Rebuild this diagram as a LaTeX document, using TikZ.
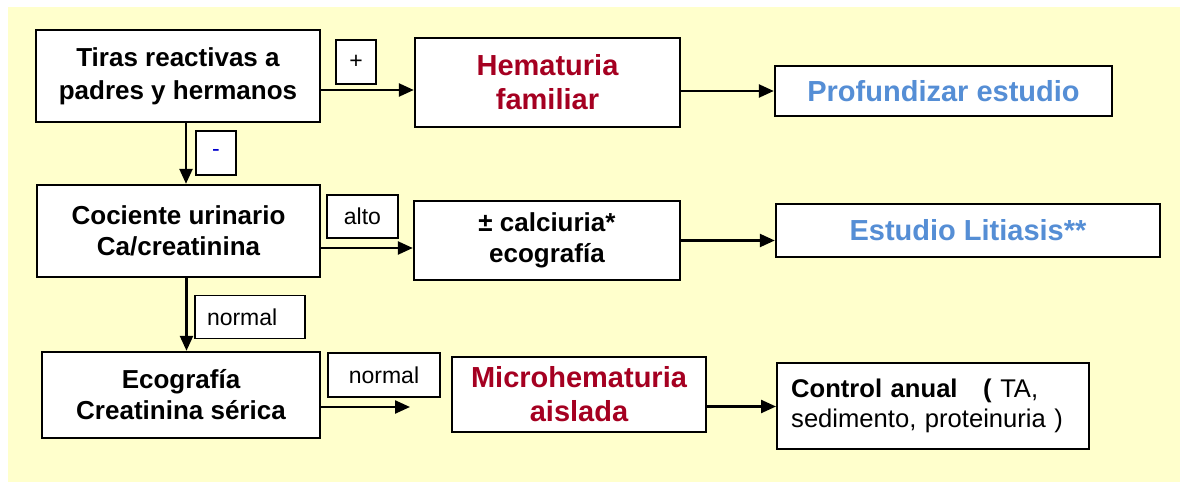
\documentclass[tikz,border=0pt]{standalone}
\usepackage{fontspec}
\setmainfont{Liberation Sans}
\usetikzlibrary{arrows.meta}
\definecolor{fondo}{HTML}{FFFFCC}
\definecolor{rojo}{HTML}{A50021}
\definecolor{azul}{HTML}{558ED5}

\begin{document}
\begin{tikzpicture}[x=0.5pt,y=-0.5pt,
    caja/.style={draw,line width=1.2pt,fill=white,align=center,font=\bfseries\fontsize{13}{16.5}\selectfont,inner sep=0pt},
    etiq/.style={draw,line width=0.9pt,fill=white,font=\fontsize{11.5}{14}\selectfont,inner sep=0pt},
    flecha/.style={line width=1.2pt,-{Triangle[length=7.5pt,width=6.5pt]}}]
    \useasboundingbox (0,0) rectangle (1180,482);
    \fill[fondo] (8,7) rectangle (1180,482);
    % columna izquierda
    \node[caja,minimum width=142pt,minimum height=46pt] (tiras) at (178,76) {Tiras reactivas a\\padres y hermanos};
    \node[caja,minimum width=141.5pt,minimum height=46pt,font=\bfseries\fontsize{13}{15.5}\selectfont] (cociente) at (178.5,231) {Cociente urinario\\Ca/creatinina};
    \node[caja,minimum width=139pt,minimum height=43pt,font=\bfseries\fontsize{13}{15.5}\selectfont] (eco) at (181,395) {Ecografía\\Creatinina sérica};
    % columna central
    \node[caja,minimum width=132.5pt,minimum height=44.5pt,text=rojo,font=\bfseries\fontsize{14.5}{17}\selectfont] (hema) at (547.5,82.5) {Hematuria\\familiar};
    \node[caja,minimum width=133pt,minimum height=39.5pt,font=\bfseries\fontsize{13}{15.5}\selectfont] (calciuria) at (547,240.5) {± calciuria*\\ecografía};
    \node[caja,minimum width=127pt,minimum height=37.5pt,text=rojo,font=\bfseries\fontsize{14.5}{17}\selectfont] (micro) at (579,394.5) {Microhematuria\\aislada};
    % columna derecha
    \node[caja,minimum width=168.5pt,minimum height=25pt,text=azul,font=\bfseries\fontsize{14.5}{17}\selectfont] (profund) at (943.5,91) {Profundizar estudio};
    \node[caja,minimum width=192pt,minimum height=26.5pt,text=azul,font=\bfseries\fontsize{14.5}{17}\selectfont] (litiasis) at (968,230.5) {Estudio Litiasis**};
    \node[caja,minimum width=156pt,minimum height=43pt,align=left,anchor=north west,inner xsep=7pt,inner ysep=6pt,text width=142pt,font=\fontsize{12.8}{15}\selectfont] (control) at (776,362) {\textbf{Control anual}\ \ \ \textbf{(} TA,\\sedimento, proteinuria )};
    % etiquetas
    \node[etiq,minimum width=20pt,minimum height=22pt] (mas) at (356,62) {+};
    \node[etiq,minimum width=20pt,minimum height=22pt,text=blue!80!black] (menos) at (216,153) {-};
    \node[etiq,minimum width=35.5pt,minimum height=21.5pt] (alto) at (362.5,216.5) {alto};
    \node[etiq,minimum width=55pt,minimum height=21.5pt,align=left,text width=43pt,inner xsep=6pt] (normalA) at (250,317) {normal};
    \node[etiq,minimum width=56pt,minimum height=22pt] (normalB) at (384,375) {normal};
    \coordinate (finEco) at (410,407);
    % flechas
    \draw[flecha] ([yshift=-7pt]tiras.east) -- ([yshift=-7pt]tiras.east -| hema.west);
    \draw[flecha] (hema.east |- profund.west) -- (profund.west);
    \draw[flecha] ([xshift=4pt]tiras.south) -- ([xshift=4pt]tiras.south |- cociente.north);
    \draw[flecha] ([yshift=-8.5pt]cociente.east) -- ([yshift=-8.5pt]cociente.east -| calciuria.west);
    \draw[flecha] (calciuria.east) -- (calciuria.east -| litiasis.west);
    \draw[flecha] ([xshift=4pt]cociente.south) -- ([xshift=4pt]cociente.south |- eco.north);
    \draw[flecha] (eco.east |- finEco) -- (finEco);
    \draw[flecha] ([yshift=-6pt]micro.east) -- ([yshift=-6pt]micro.east -| control.west);
\end{tikzpicture}
\end{document}
